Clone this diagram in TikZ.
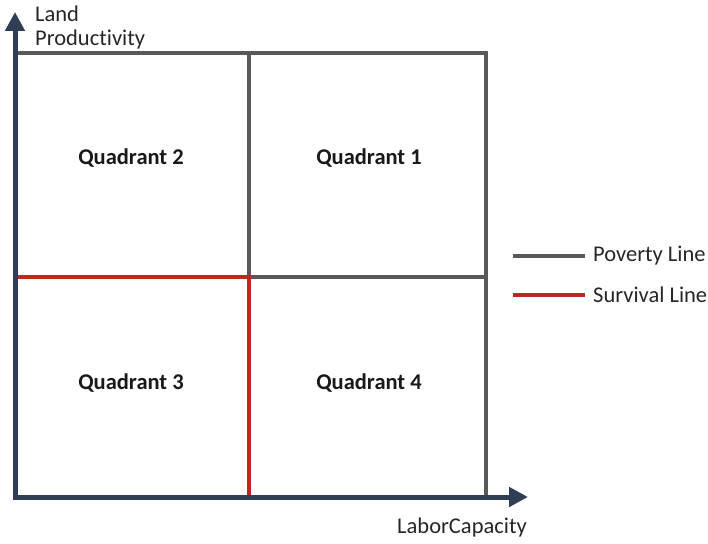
\documentclass[tikz,border=0pt]{standalone}
\usepackage{fontspec}
\setmainfont[Ligatures=NoCommon]{Carlito}
\usetikzlibrary{arrows.meta}
\definecolor{axiscol}{HTML}{2F3D55}
\definecolor{poorcol}{HTML}{595959}
\definecolor{survcol}{HTML}{C0271E}
\tikzset{
  axisline/.style={draw=axiscol, line width=5pt, -{Triangle[length=19pt,width=19pt]}},
  povline/.style={draw=poorcol, line width=4pt},
  survline/.style={draw=survcol, line width=4pt},
  quadlabel/.style={font=\fontsize{22.5}{26}\selectfont\bfseries, text=black!90, inner sep=0pt},
  plainlabel/.style={font=\fontsize{22.5}{26}\selectfont, text=black!85, inner sep=0pt},
}
\begin{document}
\begin{tikzpicture}[x=1pt,y=-1pt]
\useasboundingbox (0,0) rectangle (708,543);
% coordinates
\coordinate (ytip) at (15,12);
\coordinate (xtip) at (528,497);
\coordinate (tl) at (15,53);
\coordinate (tr) at (486,53);
\coordinate (br) at (486,497);
\coordinate (tm) at (249,53);
\coordinate (c) at (249,277);
\coordinate (mr) at (486,277);
\coordinate (ml) at (15,277);
\coordinate (bm) at (249,497);
% poverty line box
\draw[povline] (tl) -- (tr) -- (br);
\draw[povline] (tm) -- (c) -- (mr);
% survival line
\draw[survline] (ml) -- (c) -- (bm);
% axes
\draw[axisline] (15,499.5) -- (ytip);
\draw[axisline] (12.5,497) -- (xtip);
% labels
\node[quadlabel] (q2) at (131,158) {Quadrant 2};
\node[quadlabel] (q1) at (369,158) {Quadrant 1};
\node[quadlabel] (q3) at (131,383) {Quadrant 3};
\node[quadlabel] (q4) at (369,383) {Quadrant 4};
\node[plainlabel, anchor=west] (land) at (35,14) {Land};
\node[plainlabel, anchor=west] (prod) at (35,40) {Productivity};
\node[plainlabel] (lab) at (462,527) {LaborCapacity};
% legend
\coordinate (l1a) at (513,256); \coordinate (l1b) at (585,256);
\coordinate (l2a) at (513,295); \coordinate (l2b) at (585,295);
\draw[povline] (l1a) -- (l1b);
\draw[survline] (l2a) -- (l2b);
\node[plainlabel, anchor=west] (pl) at (593,256) {Poverty Line};
\node[plainlabel, anchor=west] (sl) at (593,295) {Survival Line};
\end{tikzpicture}
\end{document}
